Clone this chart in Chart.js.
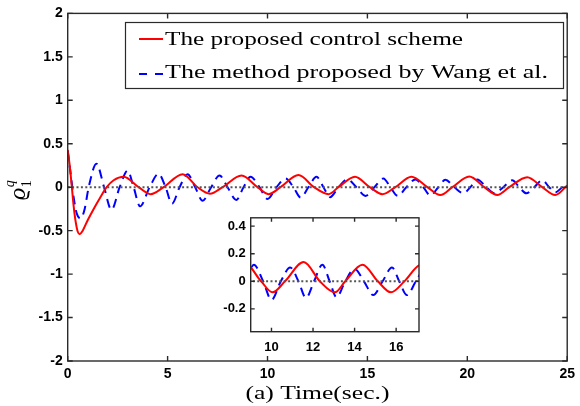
<!DOCTYPE html>
<html><head><meta charset="utf-8">
<script src="https://cdn.jsdelivr.net/npm/chart.js@4"></script>
<style>
html,body{margin:0;padding:0;background:#fff;}
#wrap{position:relative;width:580px;height:406px;overflow:hidden;}
#main{position:absolute;left:0;top:0;}
#inset{position:absolute;left:215px;top:205px;}
</style></head><body>
<div id="wrap"><canvas id="main" width="580" height="406"></canvas><canvas id="inset" width="215" height="150"></canvas></div>
<script>
// ---- data ----
const redTime = [0,0.1,0.2,0.3,0.4,0.5,0.6,0.75,1.0,1.3,1.6,1.95,2.3,2.8,3.55,4.15,4.8,5.75,6.5,7.12,7.75,8.7,9.5,10.05,10.65,11.55,12.33,13.05,13.55,14.38,15.12,15.75,16.4,17.2,18.0,18.65,19.25,20.1,20.85,21.5,22.1,23.0,23.75,24.4,25.0];
const redValue = [0.43,0.25,0.02,-0.22,-0.40,-0.51,-0.54,-0.50,-0.38,-0.25,-0.13,0.0,0.08,0.12,0,-0.08,0,0.15,0,-0.075,0,0.135,0,-0.08,0,0.14,0,-0.08,0,0.12,0,-0.08,0,0.12,0,-0.09,0,0.123,0,-0.09,0,0.115,0,-0.09,0.02];
const blueTime = [0,0.15,0.3,0.45,0.65,0.85,1.05,1.44,1.82,2.19,2.6,3.0,3.3,3.62,4.1,4.55,4.9,5.22,5.6,6.0,6.38,6.75,7.18,7.6,8.0,8.44,8.8,9.15,9.6,10.0,10.45,10.9,11.3,11.66,12.05,12.45,12.8,13.13,13.55,14.0,14.45,14.9,15.35,15.8,16.15,16.52,16.95,17.4,17.8,18.15,18.55,18.9,19.35,19.8,20.15,20.5,20.95,21.35,21.8,22.25,22.6,22.95,23.35,23.75,24.1,24.4,24.75,25.0];
const blueValue = [0.42,0.15,-0.12,-0.30,-0.36,-0.25,0,0.27,0,-0.26,0,0.19,0,-0.22,0,0.155,0,-0.19,0,0.15,0,-0.155,0,0.135,0,-0.146,0,0.12,0,-0.135,0,0.1,0,-0.12,0,0.12,0,-0.115,0,0.09,0,-0.1,0,0.1,0,-0.1,0,0.09,0,-0.095,0,0.085,0,-0.07,0,0.09,0,-0.07,0,0.08,0,-0.07,0,0.08,0,-0.06,0,0.04];
const zeroTime = [0, 25];
const zeroValue = [0, 0];
const seriesLabels = ['The proposed control scheme', 'The method proposed by Wang et al.'];
const xTicksMain = [0,5,10,15,20,25];
const yTicksMain = [-2,-1.5,-1,-0.5,0,0.5,1,1.5,2];
const xTicksInset = [10,12,14,16];
const yTicksInset = [-0.2,0,0.2,0.4];
const xTitle = '(a) Time(sec.)';

// ---- helpers ----
const pts = (t, v) => t.map((x, i) => ({x: x, y: v[i]}));
const fixedTicks = vals => scale => { scale.ticks = vals.map(v => ({value: v})); };
const serif = "'Liberation Serif','DejaVu Serif',serif";
const AXIS = '#2a2a2a';

function datasets() {
  return [
    {label: 'zero', data: pts(zeroTime, zeroValue), borderColor: '#555555', borderWidth: 2, borderDash: [2, 2.4], pointRadius: 0},
    {label: seriesLabels[0], data: pts(redTime, redValue), borderColor: '#ff0000', borderWidth: 2, pointRadius: 0, cubicInterpolationMode: 'monotone'},
    {label: seriesLabels[1], data: pts(blueTime, blueValue), borderColor: '#0000ff', borderWidth: 2, borderDash: [9, 6], pointRadius: 0, cubicInterpolationMode: 'monotone'}
  ];
}

function framePlugin(xt, yt, len) {
  return {
    id: 'frame',
    beforeDatasetsDraw(chart) {
      const c = chart.ctx, a = chart.chartArea;
      c.save(); c.fillStyle = '#fff';
      c.fillRect(a.left, a.top, a.right - a.left, a.bottom - a.top);
      c.restore();
    },
    afterDatasetsDraw(chart) {
      const c = chart.ctx, a = chart.chartArea, sx = chart.scales.x, sy = chart.scales.y;
      c.save();
      c.strokeStyle = AXIS; c.lineWidth = 1.4;
      c.strokeRect(a.left, a.top, a.right - a.left, a.bottom - a.top);
      c.beginPath();
      xt.forEach(v => { const p = sx.getPixelForValue(v);
        c.moveTo(p, a.bottom); c.lineTo(p, a.bottom - len);
        c.moveTo(p, a.top); c.lineTo(p, a.top + len); });
      yt.forEach(v => { const p = sy.getPixelForValue(v);
        c.moveTo(a.left, p); c.lineTo(a.left + len, p);
        c.moveTo(a.right, p); c.lineTo(a.right - len, p); });
      c.stroke();
      c.restore();
    }
  };
}

function stretchedText(c, text, x, y, targetW, font, center) {
  c.save(); c.font = font; c.textBaseline = 'alphabetic'; c.textAlign = 'left';
  const w = c.measureText(text).width, k = targetW / w;
  c.translate(x, y); c.scale(k, 1);
  c.fillText(text, center ? -w / 2 : 0, 0);
  c.restore();
}

const decorPlugin = {
  id: 'decor',
  afterDraw(chart) {
    const c = chart.ctx, a = chart.chartArea;
    // legend box
    c.save();
    c.fillStyle = '#fff'; c.strokeStyle = AXIS; c.lineWidth = 1.2;
    c.fillRect(125, 22, 439, 67); c.strokeRect(125.5, 22.5, 438, 66);
    const ds = chart.data.datasets;
    c.lineWidth = 2;
    c.strokeStyle = ds[1].borderColor; c.setLineDash([]);
    c.beginPath(); c.moveTo(139, 39); c.lineTo(163, 39); c.stroke();
    c.strokeStyle = ds[2].borderColor; c.setLineDash([8, 8]);
    c.beginPath(); c.moveTo(139, 74); c.lineTo(163, 74); c.stroke();
    c.setLineDash([]);
    c.fillStyle = '#000';
    stretchedText(c, ds[1].label, 165, 44.5, 298, '19px ' + serif, false);
    stretchedText(c, ds[2].label, 165, 77.5, 383, '19px ' + serif, false);
    // x title
    stretchedText(c, xTitle, (a.left + a.right) / 2, 399, 144, '18px ' + serif, true);
    // y label: varrho_1^q rotated
    c.rotate(-Math.PI / 2);
    c.font = 'italic 24px ' + serif; c.textBaseline = 'alphabetic';
    const u0 = -200;
    c.fillText('\u03F1', u0, 25);
    const w = c.measureText('\u03F1').width;
    c.font = '14px ' + serif; c.fillText('1', u0 + w + 0.5, 31);
    c.font = 'italic 14px ' + serif; c.fillText('q', u0 + w + 0.5, 14);
    c.restore();
  }
};

const tickFontMain = {family: "'Liberation Sans',Arial,sans-serif", size: 14, weight: 'bold'};
const tickFontInset = {family: "'Liberation Sans',Arial,sans-serif", size: 13, weight: 'bold'};

new Chart(document.getElementById('main'), {
  type: 'line',
  data: {datasets: datasets()},
  options: {
    responsive: false, animation: false, devicePixelRatio: 1,
    layout: {padding: {left: 0, top: 12.5, right: 9, bottom: 0}},
    plugins: {legend: {display: false}, tooltip: {enabled: false}},
    scales: {
      x: {type: 'linear', min: 0, max: 25, afterBuildTicks: fixedTicks(xTicksMain),
          afterFit: s => { s.height = 45; },
          grid: {display: false, drawTicks: false}, border: {display: false},
          ticks: {font: tickFontMain, color: '#000', padding: 5, maxRotation: 0, callback: v => String(v)}},
      y: {type: 'linear', min: -2, max: 2, afterBuildTicks: fixedTicks(yTicksMain),
          afterFit: s => { s.width = 67.7; },
          grid: {display: false, drawTicks: false}, border: {display: false},
          ticks: {font: tickFontMain, color: '#000', padding: 5, callback: v => String(v)}}
    }
  },
  plugins: [framePlugin(xTicksMain, yTicksMain, 5), decorPlugin]
});

new Chart(document.getElementById('inset'), {
  type: 'line',
  data: {datasets: datasets()},
  options: {
    responsive: false, animation: false, devicePixelRatio: 1,
    layout: {padding: {left: 0, top: 10, right: 11, bottom: 0}},
    plugins: {legend: {display: false}, tooltip: {enabled: false}},
    scales: {
      x: {type: 'linear', min: 9, max: 17.1, afterBuildTicks: fixedTicks(xTicksInset),
          afterFit: s => { s.height = 23.3; },
          grid: {display: false, drawTicks: false}, border: {display: false},
          ticks: {font: tickFontInset, color: '#000', padding: 8, maxRotation: 0, callback: v => String(v)}},
      y: {type: 'linear', min: -0.365, max: 0.46, afterBuildTicks: fixedTicks(yTicksInset),
          afterFit: s => { s.width = 35.7; },
          grid: {display: false, drawTicks: false}, border: {display: false},
          ticks: {font: tickFontInset, color: '#000', padding: 5, callback: v => String(v)}}
    }
  },
  plugins: [framePlugin(xTicksInset, yTicksInset, 4)]
});
</script>
</body></html>
